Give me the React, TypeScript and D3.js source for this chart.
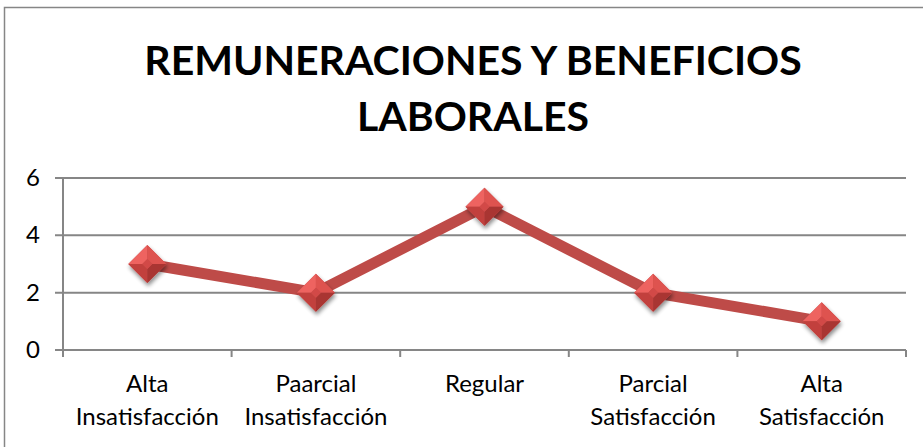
import React from "react";
import * as d3 from "d3";

const categories = [
  ["Alta", "Insatisfacción"],
  ["Paarcial", "Insatisfacción"],
  ["Regular"],
  ["Parcial", "Satisfacción"],
  ["Alta", "Satisfacción"],
];
const values = [3, 2, 5, 2, 1];
const yTicks = [0, 2, 4, 6];
const titleLines = ["REMUNERACIONES Y BENEFICIOS", "LABORALES"];

const W = 923;
const H = 447;
const font = "Lato, 'Open Sans', sans-serif";

const App = () => {
  const left = 63;
  const right = 906;
  const top = 178;
  const bottom = 350;

  const x = d3
    .scaleBand()
    .domain(categories.map((c, i) => String(i)))
    .range([left, right]);
  const y = d3.scaleLinear().domain([0, 6]).range([bottom, top]);

  const line = d3
    .line<number>()
    .x((d, i) => x(String(i))! + x.bandwidth() / 2)
    .y((d) => y(d));

  const r = 19;
  const bounds = d3.range(categories.length + 1).map((i) => left + i * x.step());

  return (
    <svg
      width={W}
      height={H}
      style={{ position: "absolute", left: 0, top: 0, display: "block" }}
    >
      <defs>
        <filter id="sh" x="-50%" y="-50%" width="200%" height="200%">
          <feGaussianBlur in="SourceAlpha" stdDeviation="2" />
          <feOffset dx="1" dy="3" result="b" />
          <feComponentTransfer>
            <feFuncA type="linear" slope="0.45" />
          </feComponentTransfer>
          <feMerge>
            <feMergeNode />
            <feMergeNode in="SourceGraphic" />
          </feMerge>
        </filter>
      </defs>
      <rect x={0} y={0} width={W} height={H} fill="#fff" />
      {/* chart border */}
      <path d={`M4.5,${H} V7.5 H${W}`} fill="none" stroke="#868686" strokeWidth={1.5} />

      {/* title */}
      {titleLines.map((t, i) => (
        <text
          key={t}
          x={473}
          y={75 + i * 56}
          textAnchor="middle"
          fontFamily={font}
          fontWeight="bold"
          fontSize={41}
          fill="#000"
        >
          {t}
        </text>
      ))}

      {/* gridlines */}
      {yTicks.map((t) => (
        <g key={t}>
          <line x1={55} x2={right} y1={y(t)} y2={y(t)} stroke="#868686" strokeWidth={2} />
          <text
            x={40}
            y={y(t) + 8}
            textAnchor="end"
            fontFamily={font}
            fontSize={24}
            fill="#000"
          >
            {t}
          </text>
        </g>
      ))}
      {/* axes */}
      <line x1={left} x2={left} y1={top} y2={bottom + 7} stroke="#868686" strokeWidth={2} />
      {bounds.map((b, i) => (
        <line key={i} x1={b} x2={b} y1={bottom} y2={bottom + 7} stroke="#868686" strokeWidth={2} />
      ))}

      {/* x labels */}
      {categories.map((c, i) => (
        <text
          key={i}
          x={x(String(i))! + x.bandwidth() / 2}
          y={392}
          textAnchor="middle"
          fontFamily={font}
          fontSize={24}
          fill="#000"
        >
          {c.map((l, j) => (
            <tspan key={j} x={x(String(i))! + x.bandwidth() / 2} dy={j === 0 ? 0 : 33}>
              {l}
            </tspan>
          ))}
        </text>
      ))}

      {/* line */}
      <path
        d={line(values)!}
        fill="none"
        stroke="#BE4B48"
        strokeWidth={11}
        strokeLinejoin="round"
      />

      {/* markers */}
      {values.map((v, i) => {
        const cx = x(String(i))! + x.bandwidth() / 2;
        const cy = y(v);
        const iR = 5;
        return (
          <g key={i} transform={`translate(${cx},${cy})`} filter="url(#sh)">
            <path d={`M0,${-r} L${r},0 L0,${r} L${-r},0 Z`} fill="#C0504D" />
            <path d={`M0,${-r} L${-r},0 L${-iR},0 L0,${-iR} Z`} fill="#EE6461" />
            <path d={`M0,${-r} L${r},0 L${iR},0 L0,${-iR} Z`} fill="#DE524F" />
            <path d={`M${-r},0 L0,${r} L0,${iR} L${-iR},0 Z`} fill="#C2403D" />
            <path d={`M${r},0 L0,${r} L0,${iR} L${iR},0 Z`} fill="#A93532" />
            <path d={`M0,${-iR} L${iR},0 L0,${iR} L${-iR},0 Z`} fill="#D24A47" />
          </g>
        );
      })}
    </svg>
  );
};

export default App;
